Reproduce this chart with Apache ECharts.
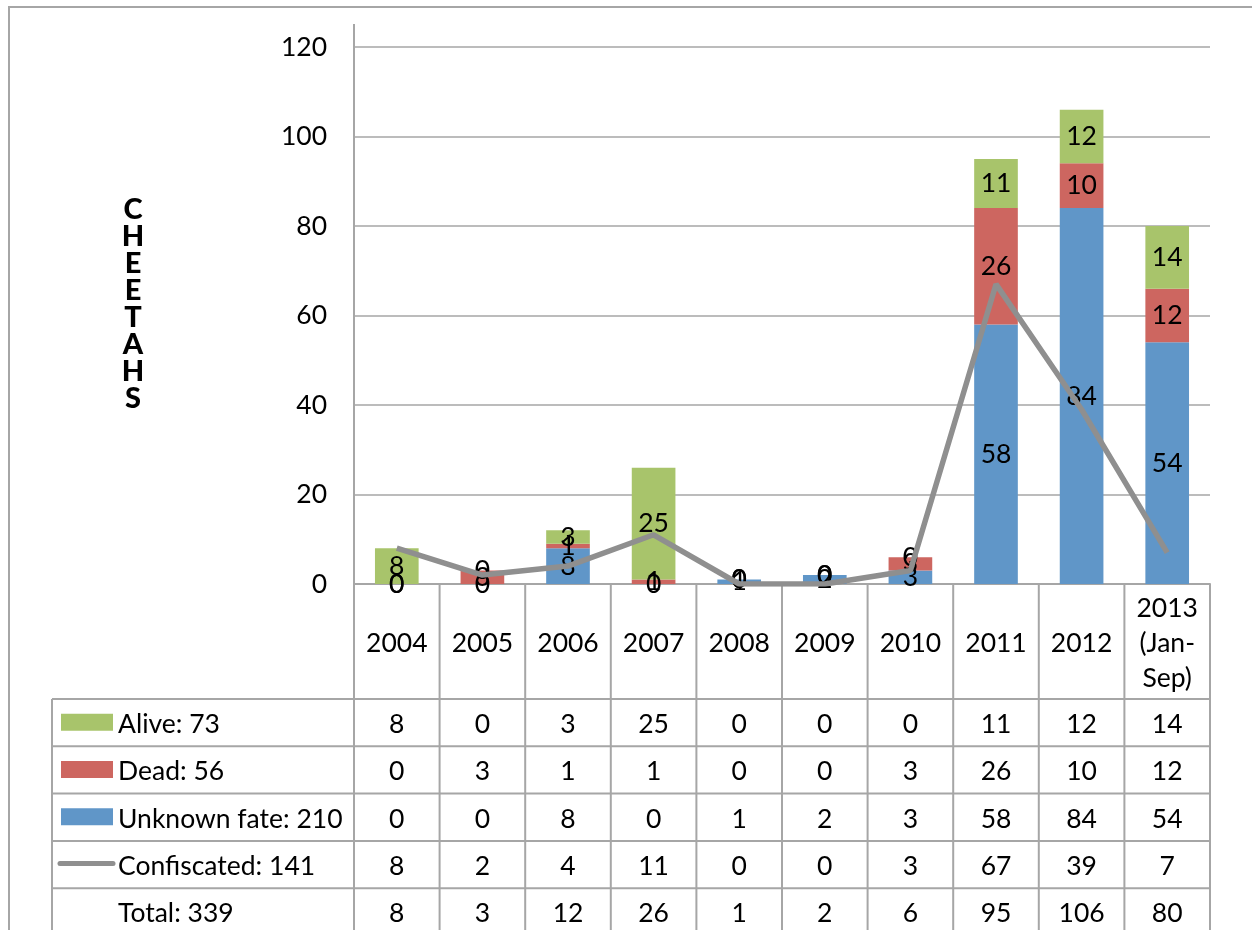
<!DOCTYPE html>
<html>
<head>
<meta charset="utf-8">
<script src="https://cdn.jsdelivr.net/npm/echarts@6/dist/echarts.min.js"></script>
<style>
html,body{margin:0;padding:0;background:#fff;}
#c{width:1252px;height:930px;}
</style>
</head>
<body>
<div id="c"></div>
<script>
var categories = ['2004','2005','2006','2007','2008','2009','2010','2011','2012','2013\n(Jan-\nSep)'];
var alive = [8,0,3,25,0,0,0,11,12,14];
var dead = [0,3,1,1,0,0,3,26,10,12];
var unknown = [0,0,8,0,1,2,3,58,84,54];
var confiscated = [8,2,4,11,0,0,3,67,39,7];
var yTicks = {min:0, max:120, interval:20};
var yTitle = 'CHEETAHS';

var FONT = 'Lato';
var FS = 26.5;
var COL_ALIVE = '#A8C46B', COL_DEAD = '#CD6660', COL_UNK = '#6096C8', COL_LINE = '#8F8F8F';
var GRID_COL = '#A6A6A6';

function sum(a){return a.reduce(function(s,v){return s+v;},0);}
var totals = categories.map(function(_,i){return alive[i]+dead[i]+unknown[i];});

var chart = echarts.init(document.getElementById('c'), null, {renderer:'canvas'});

var labelCfg = {show:true, position:'inside', color:'#000', fontFamily:FONT, fontSize:FS};

chart.setOption({
  animation:false,
  grid:{left:354, right:42, top:47, bottom:346, containLabel:false},
  xAxis:{
    type:'category', data:categories,
    axisLine:{show:true, lineStyle:{color:GRID_COL, width:2}},
    axisTick:{show:false}, axisLabel:{show:false}
  },
  yAxis:{
    type:'value', min:yTicks.min, max:yTicks.max, interval:yTicks.interval,
    axisLine:{show:true, lineStyle:{color:GRID_COL, width:2}},
    axisTick:{show:false},
    axisLabel:{color:'#000', fontFamily:FONT, fontSize:FS, margin:27},
    splitLine:{lineStyle:{color:GRID_COL, width:1.5}}
  },
  series:[
    {name:'Unknown fate', type:'bar', stack:'s', data:unknown, itemStyle:{color:COL_UNK}, barCategoryGap:'49%', label:labelCfg, z:2},
    {name:'Dead', type:'bar', stack:'s', data:dead, itemStyle:{color:COL_DEAD}, label:labelCfg, z:2},
    {name:'Alive', type:'bar', stack:'s', data:alive, itemStyle:{color:COL_ALIVE}, label:labelCfg, z:2},
    {name:'Confiscated', type:'line', data:confiscated, symbol:'none', lineStyle:{color:COL_LINE, width:5.5}, z:3}
  ]
});

// Data table below the plot, positioned through the category axis
function px(i){ return chart.convertToPixel({xAxisIndex:0}, i); }
var y0 = chart.convertToPixel({yAxisIndex:0}, yTicks.min);
var yTop = chart.convertToPixel({yAxisIndex:0}, yTicks.max);
var half = (px(1)-px(0))/2;
var xLeft = px(0)-half, xRight = px(categories.length-1)+half;
var headerBottom = 699, rowH = 47.3, labelLeft = 52;
var rows = [
  {label:'Alive: '+sum(alive), vals:alive, key:'rect', color:COL_ALIVE},
  {label:'Dead: '+sum(dead), vals:dead, key:'rect', color:COL_DEAD},
  {label:'Unknown fate: '+sum(unknown), vals:unknown, key:'rect', color:COL_UNK},
  {label:'Confiscated: '+sum(confiscated), vals:confiscated, key:'line', color:COL_LINE},
  {label:'Total: '+sum(totals), vals:totals, key:null}
];
var g = [];
var ls = {stroke:GRID_COL, lineWidth:2};
var font = FS+'px '+FONT;
// outer chart border (top + left)
g.push({type:'rect', shape:{x:9,y:7,width:1400,height:1100}, style:{fill:null, stroke:'#A6A6A6', lineWidth:2}, silent:true});
// vertical stacked axis title
g.push({type:'text', x:133, y:(y0+yTop)/2-11, style:{text:yTitle.split('').join('\n'), fill:'#000', font:'900 29px '+FONT, lineHeight:27, align:'center', verticalAlign:'middle'}});
// axis line extension above top gridline
g.push({type:'line', shape:{x1:xLeft,y1:24,x2:xLeft,y2:yTop}, style:ls});
// column lines
for (var i=0;i<=categories.length;i++){
  var x = xLeft + i*2*half;
  g.push({type:'line', shape:{x1:x,y1:y0,x2:x,y2:940}, style:ls});
}
// label column left border
g.push({type:'line', shape:{x1:labelLeft,y1:headerBottom,x2:labelLeft,y2:940}, style:ls});
// row lines
for (var r=0;r<rows.length;r++){
  var yy = headerBottom + r*rowH;
  g.push({type:'line', shape:{x1:labelLeft,y1:yy,x2:xRight,y2:yy}, style:ls});
}
// header text
categories.forEach(function(c,i){
  g.push({type:'text', x:px(i), y:(y0+headerBottom)/2+2, style:{text:c, fill:'#000', font:font, align:'center', verticalAlign:'middle', lineHeight:35}});
});
rows.forEach(function(row,r){
  var cy = headerBottom + r*rowH + rowH/2 + 2;
  if (row.key==='rect') g.push({type:'rect', shape:{x:61,y:cy-11,width:52,height:17}, style:{fill:row.color}});
  if (row.key==='line') g.push({type:'line', shape:{x1:60,y1:cy-3,x2:113,y2:cy-3}, style:{stroke:row.color, lineWidth:5, lineCap:'round'}});
  g.push({type:'text', x:118, y:cy, style:{text:row.label, fill:'#000', font:font, align:'left', verticalAlign:'middle'}});
  row.vals.forEach(function(v,i){
    g.push({type:'text', x:px(i), y:cy, style:{text:String(v), fill:'#000', font:font, align:'center', verticalAlign:'middle'}});
  });
});
chart.setOption({graphic:{elements:g}});
</script>
</body>
</html>
